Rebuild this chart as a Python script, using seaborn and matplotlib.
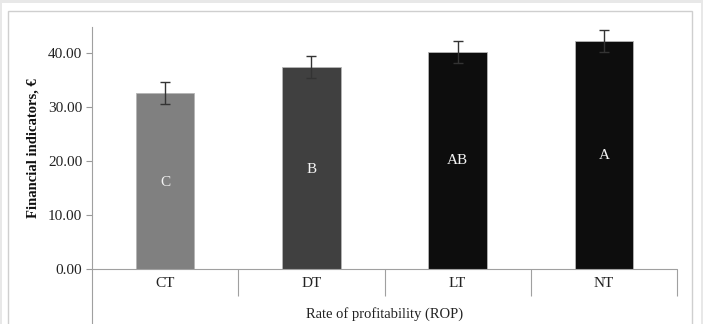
import numpy as np
import pandas as pd
import matplotlib.pyplot as plt
import matplotlib.patches as mpatches
import seaborn as sns

# data
categories = ["CT", "DT", "LT", "NT"]
values = [32.6, 37.4, 40.2, 42.2]
errors = [2.1, 2.05, 2.1, 2.1]
letters = ["C", "B", "AB", "A"]
letter_y = [16.1, 18.4, 20.0, 21.0]
bar_colors = ["#808080", "#404040", "#0d0d0d", "#0d0d0d"]

sns.set_theme(style="white")
plt.rcParams["font.family"] = ["Liberation Serif", "DejaVu Serif"]

W, H = 703, 324
fig = plt.figure(figsize=(W / 100, H / 100), dpi=100, facecolor="#e8e8e8")

# white page + chart frame like the original screenshot
fig.patches.append(mpatches.Rectangle((2 / W, 0), 699 / W, 321 / H, transform=fig.transFigure,
                                      facecolor="white", edgecolor="none", zorder=-2))
fig.patches.append(mpatches.Rectangle((8 / W, -0.05), 684 / W, (313 / H) + 0.05, transform=fig.transFigure,
                                      facecolor="white", edgecolor="#cfcfcf", linewidth=1.0, zorder=-1))

# axes box: x 92..677 px, y 27..269 px (from top)
ax = fig.add_axes([92 / W, 1 - 269 / H, 585 / W, 242 / H])
ax.set_facecolor("none")

df = pd.DataFrame({"cat": categories, "val": values})
sns.barplot(data=df, x="cat", y="val", hue="cat", palette=bar_colors, legend=False,
            width=0.4, edgecolor="#b5b5b5", linewidth=0.6, ax=ax)

ax.errorbar(range(len(categories)), values, yerr=errors, fmt="none",
            ecolor="#333333", elinewidth=1.0, capsize=3.5, capthick=1.0)

for i, (lab, ly) in enumerate(zip(letters, letter_y)):
    ax.text(i, ly, lab, color="#f4f4f4", ha="center", va="center", fontsize=11)

ax.set_xlim(-0.5, 3.5)
ax.set_ylim(0, 44.8)
ax.set_yticks([0, 10, 20, 30, 40])
ax.set_yticklabels([f"{v:.2f}" for v in [0, 10, 20, 30, 40]], fontsize=11, color="#222222")
ax.tick_params(axis="y", direction="out", length=4, width=0.8, color="#999999", pad=3, left=True)
ax.tick_params(axis="x", length=0, pad=5.5, labelsize=11, labelcolor="#222222")

sns.despine(ax=ax, top=True, right=True, bottom=True)
ax.spines["left"].set_color("#a0a0a0")
ax.spines["left"].set_linewidth(0.8)
ax.axhline(0, color="#a0a0a0", linewidth=0.8, clip_on=False)

# category separators and axis extension below the x axis
trans = ax.get_xaxis_transform()
ax.vlines([0.5, 1.5, 2.5, 3.5], 0, -27 / 242, transform=trans, colors="#a0a0a0",
          linewidth=0.8, clip_on=False)
ax.vlines([-0.5], 0, -60 / 242, transform=trans, colors="#a0a0a0", linewidth=0.8, clip_on=False)

ax.set_xlabel("Rate of profitability (ROP)", fontsize=10.5, color="#222222", labelpad=12.5)
ax.set_ylabel("Financial indicators, €", fontsize=10.5, fontweight="bold", color="#111111", labelpad=6)

fig.savefig("out.png", dpi=100, facecolor=fig.get_facecolor())
